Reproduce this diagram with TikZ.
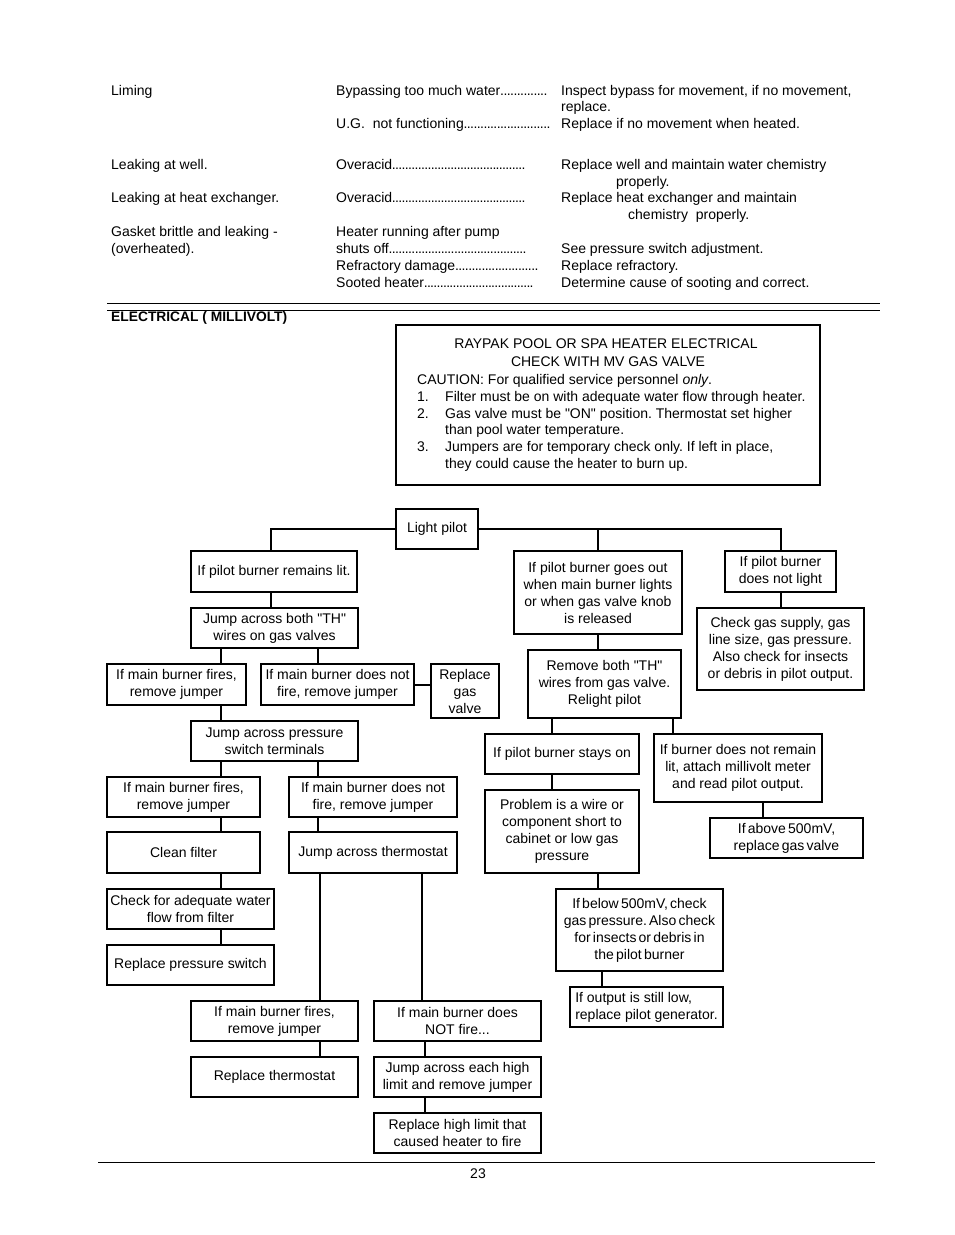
\documentclass[tikz,border=0pt]{standalone}
\usepackage{fontspec}
\setmainfont{Liberation Sans}[Ligatures=TeXOff]
\usetikzlibrary{calc}
\frenchspacing
\newcommand\fs{\fontsize{14}{17}\selectfont\frenchspacing}
\newcommand\dl{\xleaders\hbox to 3.2pt{\hss.\hss}\hfill}
\newcommand\bx[6]{\node[bx, minimum width={(#4-#2)*1pt}, minimum height={(#5-#3)*1pt}] (#1) at ({(#2+#4)/2},{(#3+#5)/2}) {#6};}
\tikzset{
  tx/.style={inner sep=0pt, font=\fs},
  bx/.style={draw, line width=1.4pt, align=center, inner sep=0pt, font=\fs},
  conn/.style={line width=1.1pt},
  connb/.style={line width=2pt},
  rule/.style={line width=1pt}
}
\begin{document}
\begin{tikzpicture}[x=1pt,y=-1pt]
\useasboundingbox[fill=white] (0,0) rectangle (954,1235);
% ---------- top table ----------
\node[tx,anchor=base west] (c1a) at (111,95) {Liming};
\node[tx,anchor=base west] (c1b) at (111,169) {Leaking at well.};
\node[tx,anchor=base west] (c1c) at (111,202) {Leaking at heat exchanger.};
\node[tx,anchor=base west] (c1d) at (111,236) {Gasket brittle and leaking -};
\node[tx,anchor=base west] (c1e) at (111,253) {(overheated).};
\node[tx,anchor=base west] (c2a) at (336,95) {\hbox to 211pt{Bypassing too much water\dl}};
\node[tx,anchor=base west] (c2b) at (336,128) {\hbox to 214pt{U.G.\ \ not functioning\dl}};
\node[tx,anchor=base west] (c2c) at (336,169) {\hbox to 189pt{Overacid\dl}};
\node[tx,anchor=base west] (c2d) at (336,202) {\hbox to 189pt{Overacid\dl}};
\node[tx,anchor=base west] (c2e) at (336,236) {Heater running after pump};
\node[tx,anchor=base west] (c2f) at (336,253) {\hbox to 190pt{shuts off\dl}};
\node[tx,anchor=base west] (c2g) at (336,270) {\hbox to 202pt{Refractory damage\dl}};
\node[tx,anchor=base west] (c2h) at (336,287) {\hbox to 197pt{Sooted heater\dl}};
\node[tx,anchor=base west] (c3a) at (561,95) {Inspect bypass for movement, if no movement,};
\node[tx,anchor=base west] (c3b) at (561,111) {replace.};
\node[tx,anchor=base west] (c3c) at (561,128) {Replace if no movement when heated.};
\node[tx,anchor=base west] (c3d) at (561,169) {Replace well and maintain water chemistry};
\node[tx,anchor=base west] (c3e) at (616,186) {properly.};
\node[tx,anchor=base west] (c3f) at (561,202) {Replace heat exchanger and maintain};
\node[tx,anchor=base west] (c3g) at (628,219) {chemistry\ \ properly.};
\node[tx,anchor=base west] (c3h) at (561,253) {See pressure switch adjustment.};
\node[tx,anchor=base west] (c3i) at (561,270) {Replace refractory.};
\node[tx,anchor=base west] (c3j) at (561,287) {Determine cause of sooting and correct.};
% rules
\coordinate (r1a) at (107,303); \coordinate (r1b) at (880,303);
\coordinate (r2a) at (107,310); \coordinate (r2b) at (880,310);
\draw[rule] (r1a) -- (r1b);
\draw[rule] (r2a) -- (r2b);
\node[tx,anchor=base west,font=\fontsize{13.8}{16}\selectfont\bfseries] (elec) at (111,321.5) {ELECTRICAL ( MILLIVOLT)};
% ---------- caution box ----------
\node[draw,line width=1.8pt,minimum width=424pt,minimum height=160pt,inner sep=0pt] (cb) at (608,405) {};
\node[tx,anchor=base] (ct1) at (606,348) {RAYPAK POOL OR SPA HEATER ELECTRICAL};
\node[tx,anchor=base] (ct2) at (608,366) {CHECK WITH MV GAS VALVE};
\node[tx,anchor=base west] (ct3) at (417,384) {CAUTION: For qualified service personnel \textit{only}.};
\node[tx,anchor=base west] (n1) at (417,401) {1.};
\node[tx,anchor=base west] (i1) at (445,401) {Filter must be on with adequate water flow through heater.};
\node[tx,anchor=base west] (n2) at (417,418) {2.};
\node[tx,anchor=base west] (i2) at (445,418) {Gas valve must be "ON" position. Thermostat set higher};
\node[tx,anchor=base west] (i2b) at (445,434) {than pool water temperature.};
\node[tx,anchor=base west] (n3) at (417,451) {3.};
\node[tx,anchor=base west] (i3) at (445,451) {Jumpers are for temporary check only. If left in place,};
\node[tx,anchor=base west] (i3b) at (445,468) {they could cause the heater to burn up.};
% ---------- flowchart boxes ----------
\bx{lp}{396}{509}{478}{549}{Light pilot}
\bx{a1}{191}{551}{357}{592}{If pilot burner remains lit.}
\bx{a2}{191}{608}{358}{648}{Jump across both "TH"\\wires on gas valves}
\bx{a3}{107}{664}{246}{705}{If main burner fires,\\remove jumper}
\bx{a4}{261}{664}{414}{705}{If main burner does not\\fire, remove jumper}
\bx{a5}{431}{664}{499}{718}{Replace\\gas\\valve}
\bx{a6}{191}{721}{358}{761}{Jump across pressure\\switch terminals}
\bx{a7}{107}{777}{260}{817}{If main burner fires,\\remove jumper}
\bx{a8}{289}{777}{457}{817}{If main burner does not\\fire, remove jumper}
\bx{a9}{107}{832}{260}{873}{Clean filter}
\bx{a10}{289}{832}{457}{873}{Jump across thermostat}
\bx{a11}{107}{889}{274}{929}{Check for adequate water\\flow from filter}
\bx{a12}{107}{945}{274}{985}{Replace pressure switch}
\bx{a13}{191}{1001}{358}{1041}{If main burner fires,\\remove jumper}
\bx{a14}{374}{1001}{541}{1041}{If main burner does\\NOT fire...}
\bx{a15}{191}{1057}{358}{1097}{Replace thermostat}
\bx{a16}{374}{1057}{541}{1097}{Jump across each high\\limit and remove jumper}
\bx{a17}{374}{1113}{541}{1153}{Replace high limit that\\caused heater to fire}
\bx{b1}{514}{551}{682}{634}{If pilot burner goes out\\when main burner lights\\or when gas valve knob\\is released}
\bx{c1}{725}{551}{836}{592}{If pilot burner\\does not light}
\bx{c2}{697}{608}{864}{690}{Check gas supply, gas\\line size, gas pressure.\\Also check for insects\\or debris in pilot output.}
\bx{b2}{528}{650}{681}{718}{Remove both "TH"\\wires from gas valve.\\Relight pilot}
\bx{b3}{485}{734}{639}{774}{If pilot burner stays on}
\bx{b4}{654}{734}{822}{802}{If burner does not remain\\lit, attach millivolt meter\\and read pilot output.}
\bx{b5}{485}{790}{639}{873}{Problem is a wire or\\component short to\\cabinet or low gas\\pressure}
\bx{b6}{710}{818}{863}{858}{\spaceskip=2.2pt If above 500mV,\\\spaceskip=2.2pt replace gas valve}
\bx{b7}{556}{889}{723}{971}{\spaceskip=2.2pt If below 500mV, check\\\spaceskip=2.2pt gas pressure. Also check\\\spaceskip=2.2pt for insects or debris in\\\spaceskip=2.2pt the pilot burner}
\node[bx,align=left,minimum width=153pt,minimum height=40pt] (b8) at (646.5,1007) {If output is still low,\\replace pilot generator.};
% ---------- connectors ----------
\coordinate (x221) at (221,0); \coordinate (x271) at (271,0);
\coordinate (x318) at (318,0); \coordinate (x320) at (320,0);
\coordinate (x422) at (422,0); \coordinate (x425) at (425,0);
\coordinate (x552) at (552,0); \coordinate (x598) at (598,0);
\coordinate (x602) at (602,0); \coordinate (x673) at (673,0);
\coordinate (x763) at (763,0); \coordinate (x781) at (781,0);
\coordinate (y685) at (0,685);
\draw[conn] (lp.west) -| (a1.north -| x271);
\draw[connb] (lp.east) -| (c1.north -| x781);
\draw[connb] (lp.east -| x598) -- (b1.north -| x598);
\draw[conn] (a1.south -| x271) -- (a2.north -| x271);
\draw[conn] (a2.south -| x221) -- (a3.north -| x221);
\draw[connb] (a2.south -| x318) -- (a4.north -| x318);
\draw[connb] (a4.east |- y685) -- (a5.west |- y685);
\draw[conn] (a3.south -| x221) -- (a6.north -| x221);
\draw[connb] (a6.south -| x221) -- (a7.north -| x221);
\draw[connb] (a6.south -| x318) -- (a8.north -| x318);
\draw[connb] (a7.south -| x221) -- (a9.north -| x221);
\draw[conn] (a8.south -| x318) -- (a10.north -| x318);
\draw[connb] (a9.south -| x221) -- (a11.north -| x221);
\draw[connb] (a11.south -| x221) -- (a12.north -| x221);
\draw[conn] (a10.south -| x320) -- (a13.north -| x320);
\draw[conn] (a10.south -| x422) -- (a14.north -| x422);
\draw[connb] (a13.south -| x320) -- (a15.north -| x320);
\draw[connb] (a14.south -| x425) -- (a16.north -| x425);
\draw[conn] (a16.south -| x425) -- (a17.north -| x425);
\draw[conn] (b1.south -| x598) -- (b2.north -| x598);
\draw[conn] (b2.south -| x552) -- (b3.north -| x552);
\draw[conn] (b2.south -| x673) -- (b4.north -| x673);
\draw[conn] (b3.south -| x552) -- (b5.north -| x552);
\draw[conn] (b4.south -| x763) -- (b6.north -| x763);
\draw[conn] (b5.south -| x598) -- (b7.north -| x598);
\draw[connb] (b7.south -| x602) -- (b8.north -| x602);
\draw[conn] (c1.south -| x781) -- (c2.north -| x781);
% ---------- footer ----------
\coordinate (f1) at (98,1162); \coordinate (f2) at (875,1162);
\draw[rule] (f1) -- (f2);
\node[tx,anchor=base] (pg) at (478,1178) {23};
\end{tikzpicture}
\end{document}
